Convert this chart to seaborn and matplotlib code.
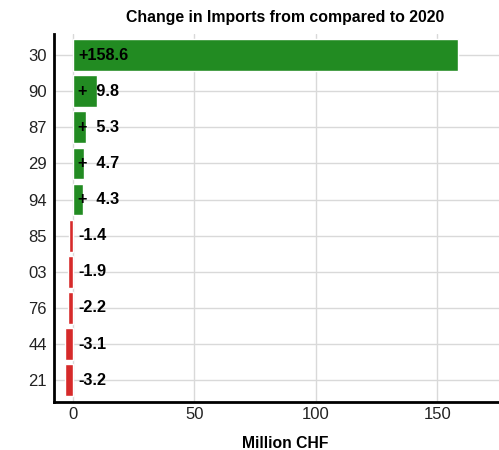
import matplotlib
matplotlib.use("Agg")
import matplotlib.pyplot as plt
import seaborn as sns
import pandas as pd

categories = ["30", "90", "87", "29", "94", "85", "03", "76", "44", "21"]
values = [158.6, 9.8, 5.3, 4.7, 4.3, -1.4, -1.9, -2.2, -3.1, -3.2]
labels = ["+158.6", "+  9.8", "+  5.3", "+  4.7", "+  4.3", "-1.4", "-1.9", "-2.2", "-3.1", "-3.2"]
xticks = [0, 50, 100, 150]

sns.set_theme(style="whitegrid")
plt.rcParams['font.family'] = ['Liberation Sans', 'DejaVu Sans']

df = pd.DataFrame({"cat": categories, "val": values,
                   "sign": ["pos" if v >= 0 else "neg" for v in values]})

fig = plt.figure(figsize=(4.99, 4.5), dpi=100)
ax = fig.add_axes([0.108, 0.107, 0.926, 0.817])
sns.barplot(data=df, x="val", y="cat", hue="sign", order=categories,
            palette={"pos": "#228B22", "neg": "#D62A2A"}, dodge=False, saturation=1,
            width=0.88, edgecolor="white", linewidth=1, legend=False, ax=ax, zorder=3)

for i, lab in enumerate(labels):
    ax.text(2.3, i, lab, ha="left", va="center", fontsize=11.7, fontweight="bold",
            color="black", zorder=5)

ax.set_xlim(-7.8, 182.3)
ax.set_ylim(9.6, -0.58)
ax.set_xticks(xticks)
ax.set_xlabel("Million CHF", fontsize=11.3, fontweight="bold", labelpad=10, color="black")
ax.set_ylabel("")
ax.set_title("Change in Imports from compared to 2020", fontsize=11.4, fontweight="bold",
             pad=9, color="black")
ax.tick_params(axis="both", labelsize=12, labelcolor="#222222", length=3, color="#cccccc")
ax.tick_params(axis="y", pad=2)
ax.tick_params(axis="x", length=0)
ax.grid(True, color="#d9d9d9", linewidth=1)
ax.set_axisbelow(True)
for s in ["top", "right"]:
    ax.spines[s].set_visible(False)
for s in ["left", "bottom"]:
    ax.spines[s].set_color("black")
    ax.spines[s].set_linewidth(2)

fig.savefig("out.png", dpi=100, facecolor="white")
